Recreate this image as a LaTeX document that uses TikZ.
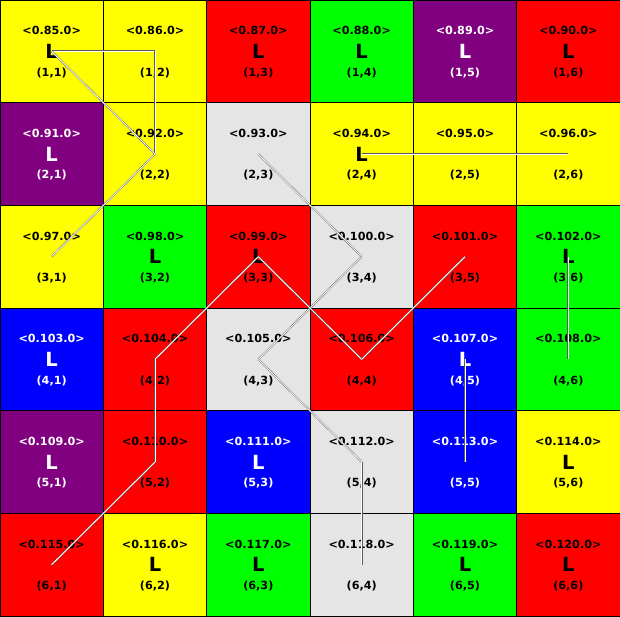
\documentclass[tikz,border=0pt]{standalone}
\usepackage{fontspec}
\setmainfont{DejaVu Sans}
\definecolor{cellgray}{RGB}{229,229,229}
\definecolor{cellpurple}{RGB}{128,0,128}
\definecolor{cellyellow}{RGB}{255,255,0}

\tikzset{
  cell/.style={draw=black, line width=0.8pt, minimum width=103.333pt,
    minimum height=102.667pt, inner sep=0pt},
  tag/.style={font=\bfseries\fontsize{11.2}{13}\selectfont, inner sep=0pt},
  bigL/.style={font=\bfseries\fontsize{19.5}{22}\selectfont, inner sep=0pt},
  route/.style={draw=gray!70!black, line width=0.4pt, double=white,
    double distance=0.9pt},
}

\begin{document}
\begin{tikzpicture}[x=103.333pt, y=-102.667pt]
    % 画布
    \useasboundingbox (0,0) rectangle (6,6);
    % 格子
    \foreach \r/\c/\bg/\fg/\txt in {
        1/1/cellyellow/black/L, 1/2/cellyellow/black/{}, 1/3/red/black/L,
        1/4/green/black/L, 1/5/cellpurple/white/L, 1/6/red/black/L,
        2/1/cellpurple/white/L, 2/2/cellyellow/black/{}, 2/3/cellgray/black/{},
        2/4/cellyellow/black/L, 2/5/cellyellow/black/{}, 2/6/cellyellow/black/{},
        3/1/cellyellow/black/{}, 3/2/green/black/L, 3/3/red/black/L,
        3/4/cellgray/black/{}, 3/5/red/black/{}, 3/6/green/black/L,
        4/1/blue/white/L, 4/2/red/black/{}, 4/3/cellgray/black/{},
        4/4/red/black/{}, 4/5/blue/white/L, 4/6/green/black/{},
        5/1/cellpurple/white/L, 5/2/red/black/{}, 5/3/blue/white/L,
        5/4/cellgray/black/{}, 5/5/blue/white/{}, 5/6/cellyellow/black/L,
        6/1/red/black/{}, 6/2/cellyellow/black/L, 6/3/green/black/L,
        6/4/cellgray/black/{}, 6/5/green/black/L, 6/6/red/black/L} {
      \pgfmathtruncatemacro{\n}{(\r-1)*6+\c+84}
      \node[cell, fill=\bg] (c\r\c) at (\c-0.5,\r-0.5) {};
      \node[tag, text=\fg, yshift=20.5pt] (t\r\c) at (c\r\c) {<0.\n.0>};
      \node[bigL, text=\fg] (l\r\c) at (c\r\c) {\txt};
      \node[tag, text=\fg, yshift=-21.5pt] (p\r\c) at (c\r\c) {(\r,\c)};
    }
    % 路径
    \foreach \a/\b in {11/12, 12/22, 11/22, 22/31, 23/34, 34/43, 43/54,
        54/64, 24/25, 25/26, 33/42, 42/52, 52/61, 33/44, 44/35, 36/46, 45/55}
      \draw[route] (c\a.center) -- (c\b.center);
\end{tikzpicture}
\end{document}
